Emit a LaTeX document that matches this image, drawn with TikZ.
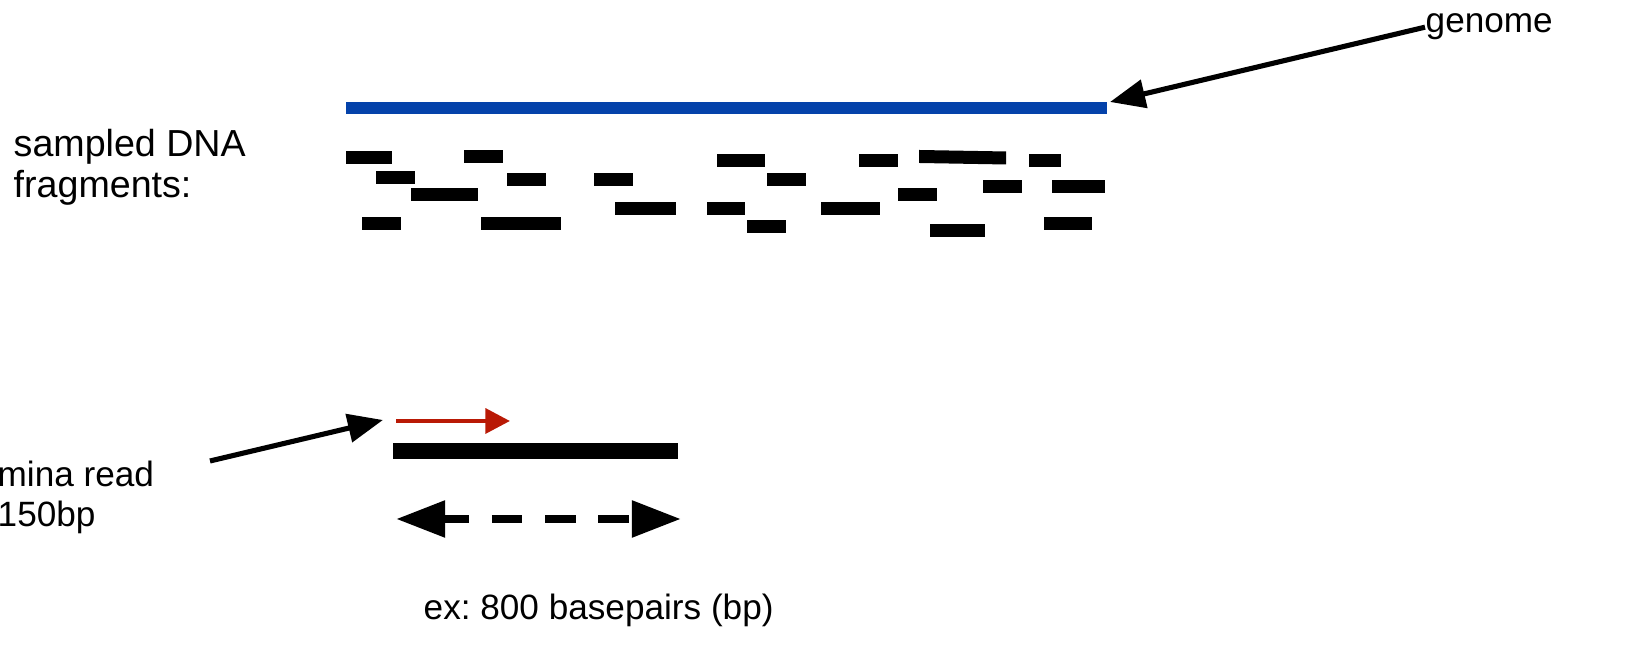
\documentclass[tikz,border=0pt]{standalone}
\usepackage{fontspec}
\setmainfont{Liberation Sans}
\usetikzlibrary{arrows.meta}
\definecolor{genomeblue}{RGB}{4,66,170}
\definecolor{readred}{RGB}{185,25,5}
\frenchspacing

\begin{document}
\begin{tikzpicture}[x=0.01cm,y=-0.01cm,
	frag/.style={fill=black},
	pointer/.style={line width=1.45pt,-{Triangle[length=10pt,width=8pt]}},
	span/.style={line width=2.4pt,{Triangle[length=14pt,width=10pt]}-{Triangle[length=14pt,width=10pt]},dash pattern=on 8.7pt off 6.46pt,dash phase=1.3pt},
	label/.style={inner sep=0pt,font=\fontsize{10}{11.5}\selectfont}]
		\useasboundingbox (0,0) rectangle (1652,659);

		%genome
		\draw[genomeblue,line width=3.4pt] (346,108) -- (1107,108);
		\node[label,anchor=base west] (genome) at (1425,33) {genome};
		\coordinate (gtip) at (1110,102);
		\draw[pointer] (genome.west) -- (gtip);

		%fragments, first row
		\fill[frag] (346,151) rectangle (392,164);
		\fill[frag] (464,150) rectangle (503,163);
		\fill[frag] (717,154) rectangle (765,167);
		\fill[frag] (859,154) rectangle (898,167);
		\fill[frag] (919,150) -- (1006,151.5) -- (1006,164.5) -- (919,163) -- cycle;
		\fill[frag] (1029,154) rectangle (1061,167);

		%fragments, second row
		\fill[frag] (376,171) rectangle (415,184);
		\fill[frag] (507,173) rectangle (546,186);
		\fill[frag] (594,173) rectangle (633,186);
		\fill[frag] (767,173) rectangle (806,186);
		\fill[frag] (983,180) rectangle (1022,193);
		\fill[frag] (1052,180) rectangle (1105,193);

		%fragments, third row
		\fill[frag] (411,188) rectangle (478,201);
		\fill[frag] (898,188) rectangle (937,201);
		\fill[frag] (615,202) rectangle (676,215);
		\fill[frag] (707,202) rectangle (745,215);
		\fill[frag] (821,202) rectangle (880,215);

		%fragments, last row
		\fill[frag] (362,217) rectangle (401,230);
		\fill[frag] (481,217) rectangle (561,230);
		\fill[frag] (747,220) rectangle (786,233);
		\fill[frag] (930,224) rectangle (985,237);
		\fill[frag] (1044,217) rectangle (1092,230);

		\node[label,anchor=north west,align=left,font=\fontsize{10.7}{11.5}\selectfont] (sampled) at (13,129) {sampled DNA\\fragments:};

		%read
		\draw[readred,line width=1.3pt,-{Triangle[length=7pt,width=7pt]}] (396,421) -- (510,421);
		\draw[line width=4.5pt] (393,451) -- (678,451);
		\draw[span] (396,519) -- (681,519);

		\node[label,anchor=north west,align=left] (illumina) at (-3,460) {mina read\\150bp};
		\coordinate (itail) at (210,461);
		\coordinate (itip) at (383,420);
		\draw[pointer] (itail) -- (itip);

		\node[label,anchor=base west] (bpsize) at (423,620) {ex: 800 basepairs (bp)};
	\end{tikzpicture}
\end{document}
